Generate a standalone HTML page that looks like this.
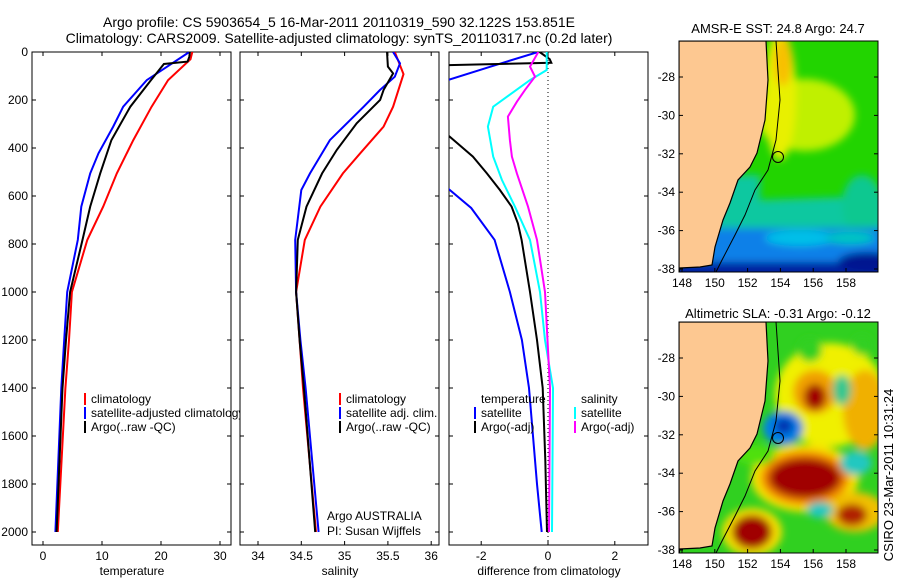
<!DOCTYPE html>
<html><head><meta charset="utf-8">
<style>
body{margin:0;background:#fff;}
svg{display:block;font-family:"Liberation Sans",sans-serif;}
text{fill:#000;}
</style></head>
<body>
<svg id="fig" width="900" height="580" viewBox="0 0 900 580">
<defs>
<clipPath id="c1"><rect x="32" y="52" width="199" height="493"/></clipPath>
<clipPath id="c2"><rect x="240" y="52" width="199" height="493"/></clipPath>
<clipPath id="c3"><rect x="449" y="52" width="199" height="493"/></clipPath>
<clipPath id="cm1"><rect x="679" y="41" width="199" height="231"/></clipPath>
<clipPath id="cm2"><rect x="679" y="322" width="199" height="231"/></clipPath>
<filter id="bl" x="-20%" y="-20%" width="140%" height="140%"><feGaussianBlur stdDeviation="4"/></filter>
</defs>
<text x="339" y="27" font-size="14" text-anchor="middle">Argo profile: CS 5903654_5 16-Mar-2011 20110319_590 32.122S 153.851E</text>
<text x="339" y="43" font-size="14" text-anchor="middle">Climatology: CARS2009. Satellite-adjusted climatology: synTS_20110317.nc (0.2d later)</text>

<g>
<text x="778" y="33" font-size="13" text-anchor="middle">AMSR-E SST: 24.8 Argo: 24.7</text>
<g clip-path="url(#cm1)">
<rect x="679" y="41" width="199" height="231" fill="#22d400"/>
<g filter="url(#bl)">
<ellipse cx="805" cy="115" rx="50" ry="36" fill="#c0f000"/>
<ellipse cx="780" cy="95" rx="16" ry="65" fill="#e8f000"/>
<ellipse cx="783" cy="62" rx="9" ry="24" fill="#f8c000"/>
<polygon points="730,175 760,175 760,200 900,195 900,230 700,230" fill="#10c8a0"/>
<ellipse cx="862" cy="205" rx="20" ry="30" fill="#10c890"/>
<rect x="660" y="228" width="240" height="34" fill="#0880e8"/>
<ellipse cx="800" cy="238" rx="35" ry="8" fill="#00c0e8"/>
<ellipse cx="850" cy="238" rx="25" ry="6" fill="#00c8c0"/>
<rect x="660" y="262" width="240" height="20" fill="#0020a0"/>
<ellipse cx="868" cy="262" rx="30" ry="10" fill="#001890"/>
</g>
</g>
</g>

<g>
<text x="778" y="318" font-size="13" text-anchor="middle">Altimetric SLA: -0.31 Argo: -0.12</text>
<g clip-path="url(#cm2)">
<rect x="679" y="322" width="199" height="231" fill="#30d020"/>
<g filter="url(#bl)">
<ellipse cx="830" cy="395" rx="55" ry="52" fill="#f0f000"/>
<ellipse cx="865" cy="410" rx="22" ry="40" fill="#f0b000"/>
<ellipse cx="815" cy="392" rx="22" ry="22" fill="#f0a000"/>
<ellipse cx="815" cy="397" rx="11" ry="13" fill="#a00000"/>
<ellipse cx="842" cy="390" rx="9" ry="15" fill="#30c890"/>
<ellipse cx="810" cy="350" rx="12" ry="12" fill="#30d020"/>
<ellipse cx="862" cy="345" rx="10" ry="10" fill="#30d020"/>
<ellipse cx="783" cy="428" rx="20" ry="17" fill="#0080e8"/>
<ellipse cx="784" cy="426" rx="9" ry="8" fill="#0030b0"/>
<ellipse cx="805" cy="478" rx="54" ry="34" fill="#f8e000"/>
<ellipse cx="805" cy="478" rx="44" ry="27" fill="#f08000"/>
<ellipse cx="805" cy="478" rx="36" ry="20" fill="#a00000"/>
<ellipse cx="752" cy="532" rx="30" ry="24" fill="#f8e000"/>
<ellipse cx="752" cy="532" rx="20" ry="17" fill="#a00000"/>
<ellipse cx="855" cy="512" rx="30" ry="20" fill="#f0c000"/>
<ellipse cx="852" cy="515" rx="15" ry="11" fill="#b02000"/>
<ellipse cx="856" cy="463" rx="16" ry="12" fill="#20c8c0"/>
<ellipse cx="820" cy="510" rx="13" ry="8" fill="#20c8c0"/>
<ellipse cx="755" cy="455" rx="20" ry="10" fill="#50e010"/>
</g>
</g>
</g>

<g id="maps-overlay"></g>
<g id="plots"></g>
<text transform="translate(893,475) rotate(-90)" font-size="13" text-anchor="middle">CSIRO 23-Mar-2011 10:31:24</text>
</svg>
<script>
var tempClimP = [0,30,117,228,367,506,644,783,1000,1200,1400,2000];
var tempClim  = [25.3,25.0,21.2,18.4,15.3,12.5,10.2,7.5,4.9,4.4,3.8,2.5];
var tempSatP  = [0,117,228,311,422,506,644,783,1000,1200,1400,2000];
var tempSat   = [24.8,17.6,13.6,11.9,9.4,8.0,6.5,5.9,4.1,3.6,3.1,2.1];
var tempArgoP = [0,20,40,50,80,117,228,367,506,644,783,1000,1200,1400,2000];
var tempArgo  = [24.9,24.8,24.5,20.5,19.5,18.3,14.8,11.6,9.7,8.0,6.7,4.6,3.9,3.3,2.3];

var salClimP = [0,92,228,311,422,506,644,783,1000,1200,1400,2000];
var salClim  = [35.58,35.68,35.56,35.45,35.18,34.98,34.72,34.54,34.44,34.48,34.52,34.67];
var salSatP  = [0,47,103,158,228,367,506,575,783,1000,1200,1400,2000];
var salSat   = [35.56,35.64,35.58,35.41,35.22,34.83,34.60,34.50,34.43,34.44,34.49,34.55,34.70];
var salArgoP = [0,61,89,158,200,297,408,506,644,783,1000,1200,1400,2000];
var salArgo  = [35.49,35.50,35.56,35.45,35.41,35.14,34.91,34.74,34.56,34.46,34.44,34.48,34.53,34.66];

var dTSatP  = [0,60,117,300,500,568,650,783,1000,1200,1400,1600,1800,2000];
var dTSat   = [-0.3,-1.7,-3.0,-4.0,-3.3,-3.0,-2.3,-1.6,-1.14,-0.78,-0.57,-0.45,-0.33,-0.19];
var dTArgoP = [0,30,45,55,70,100,130,346,436,506,575,644,714,783,1000,1200,1400,1700,2000];
var dTArgo  = [-0.25,0.05,0.1,-3.0,-3.2,-3.0,-3.5,-3.0,-2.25,-1.83,-1.44,-1.09,-0.9,-0.79,-0.54,-0.33,-0.16,-0.08,-0.03];
var dSSatP  = [0,75,117,228,311,436,533,644,783,1000,1200,1400,2000];
var dSSat   = [-0.04,-0.04,-0.54,-1.64,-1.8,-1.64,-1.38,-0.99,-0.54,-0.24,-0.09,0.15,0.12];
var dSArgoP = [0,61,103,158,207,269,367,436,506,644,783,1000,1400,2000];
var dSArgo  = [-0.29,-0.54,-0.39,-0.69,-0.93,-1.2,-1.14,-1.08,-0.93,-0.6,-0.33,-0.09,0.06,0.03];

var depthTicks = [0,200,400,600,800,1000,1200,1400,1600,1800,2000];
var tempTicks = [0,10,20,30];
var salTicks = [34,34.5,35,35.5,36];
var salTickLabels = ["34","34.5","35","35.5","36"];
var diffTicks = [-2,0,2];
var lonTicks = [148,150,152,154,156,158];
var latTicks = [-28,-30,-32,-34,-36,-38];

var NS = "http://www.w3.org/2000/svg";
function mk(tag, attrs, parent){var e=document.createElementNS(NS,tag);for(var k in attrs)e.setAttribute(k,attrs[k]);parent.appendChild(e);return e;}
function yP(p){return 52+0.24*p;}
var plots = document.getElementById('plots');

var panels = [
 {x0:32, name:'temperature', label:'temperature', clip:'c1', sx:function(v){return 43+5.9*v;}, ticks:tempTicks, tl:tempTicks.map(String)},
 {x0:240, name:'salinity', label:'salinity', clip:'c2', sx:function(v){return 258+86.6*(v-34);}, ticks:salTicks, tl:salTickLabels},
 {x0:449, name:'difference', label:'difference from climatology', clip:'c3', sx:function(v){return 548+33.4*v;}, ticks:diffTicks, tl:diffTicks.map(String)}
];
panels.forEach(function(pn,i){
  var g = mk('g',{},plots);
  
  
  var r = mk('rect',{x:pn.x0,y:52,width:199,height:493,fill:'#fff',stroke:'#000','stroke-width':1},g);
  
  
  depthTicks.forEach(function(d){
    var y=yP(d);
    mk('line',{x1:pn.x0,x2:pn.x0+4,y1:y,y2:y,stroke:'#000'},g);
    mk('line',{x1:pn.x0+199,x2:pn.x0+195,y1:y,y2:y,stroke:'#000'},g);
    if(i===0){
      var t=mk('text',{x:28,y:y+4,'font-size':12,'text-anchor':'end'},g);
      t.textContent=d;
      
      
    }
  });
  pn.ticks.forEach(function(v,k){
    var x=pn.sx(v);
    mk('line',{x1:x,x2:x,y1:545,y2:541,stroke:'#000'},g);
    mk('line',{x1:x,x2:x,y1:52,y2:56,stroke:'#000'},g);
    var t=mk('text',{x:x,y:560,'font-size':12,'text-anchor':'middle'},g);
    t.textContent=pn.tl[k];
    
    
  });
  var xl=mk('text',{x:pn.x0+100,y:575,'font-size':12,'text-anchor':'middle'},g);
  xl.textContent=pn.label;
  
  
  pn.g=g;
});

function series(pi, P, V, color, name){
  var pn=panels[pi];
  var pts=P.map(function(p,k){return pn.sx(V[k]).toFixed(1)+','+yP(p).toFixed(1);}).join(' ');
  var l=mk('polyline',{points:pts,fill:'none',stroke:color,'stroke-width':2,'clip-path':'url(#'+pn.clip+')'},pn.g);
  
  
}
var zl = mk('line',{x1:548,x2:548,y1:52,y2:545,stroke:'#000','stroke-dasharray':'1,3'},panels[2].g);



series(0,tempClimP,tempClim,'#f00','temp-climatology-line');
series(0,tempSatP,tempSat,'#00f','temp-satellite-line');
series(0,tempArgoP,tempArgo,'#000','temp-argo-line');
series(1,salClimP,salClim,'#f00','sal-climatology-line');
series(1,salSatP,salSat,'#00f','sal-satellite-line');
series(1,salArgoP,salArgo,'#000','sal-argo-line');
series(2,dTSatP,dTSat,'#00f','diff-temp-satellite-line');
series(2,dTArgoP,dTArgo,'#000','diff-temp-argo-line');
series(2,dSSatP,dSSat,'#0ff','diff-sal-satellite-line');
series(2,dSArgoP,dSArgo,'#f0f','diff-sal-argo-line');

function legend(g,x,y,color,text,name){
  if(color){ mk('line',{x1:x,x2:x,y1:y-10,y2:y+2,stroke:color,'stroke-width':2},g); }
  var t=mk('text',{x:x+6,y:y,'font-size':12},g);
  t.textContent=text;
  
  
}
legend(panels[0].g,85,403,'#f00','climatology','legend-climatology');
legend(panels[0].g,85,417,'#00f','satellite-adjusted climatology','legend-satellite-adjusted');
legend(panels[0].g,85,431,'#000','Argo(..raw -QC)','legend-argo');
legend(panels[1].g,340,403,'#f00','climatology','legend-climatology');
legend(panels[1].g,340,417,'#00f','satellite adj. clim.','legend-satellite-adjusted');
legend(panels[1].g,340,431,'#000','Argo(..raw -QC)','legend-argo');
legend(panels[2].g,475,403,null,'temperature','legend-temperature-header');
legend(panels[2].g,475,417,'#00f','satellite','legend-temp-satellite');
legend(panels[2].g,475,431,'#000','Argo(-adj)','legend-temp-argo');
legend(panels[2].g,575,403,null,'salinity','legend-salinity-header');
legend(panels[2].g,575,417,'#0ff','satellite','legend-sal-satellite');
legend(panels[2].g,575,431,'#f0f','Argo(-adj)','legend-sal-argo');
legend(panels[1].g,321,520,null,'Argo AUSTRALIA','credit-argo-australia');
legend(panels[1].g,321,535,null,'PI: Susan Wijffels','credit-pi');

var coastTop = [[766,41],[768,80],[765,120],[757,153],[750,167],[738,180],[730,203],[723,220],[715,247],[712,265],[700,267],[680,268]];
var isoTop = [[776,41],[780,100],[776,140],[768,170],[755,190],[745,215],[735,235],[722,260],[716,272]];
var ov=document.getElementById('maps-overlay');
[0,281].forEach(function(dy,mi){
  var g=mk('g',{'clip-path':'url(#cm'+(mi+1)+')'},ov);
  
  
  var poly=[[679,41]].concat(coastTop).concat([[679,273]]);
  mk('polygon',{points:poly.map(function(p){return p[0]+','+(p[1]+dy);}).join(' '),fill:'#fdc891',stroke:'#000','stroke-width':1.2},g);
  mk('polyline',{points:isoTop.map(function(p){return p[0]+','+(p[1]+dy);}).join(' '),fill:'none',stroke:'#000','stroke-width':1},g);
  var c=mk('circle',{cx:778,cy:157+dy,r:5.5,fill:'none',stroke:'#000','stroke-width':1},g);
  
  
  var f=mk('rect',{x:679,y:41+dy,width:199,height:231,fill:'none',stroke:'#000'},ov);
  
  
  lonTicks.forEach(function(lon){
    var x=682+16.4*(lon-148);
    mk('line',{x1:x,x2:x,y1:272+dy,y2:268+dy,stroke:'#000'},ov);
    var t=mk('text',{x:x,y:287+dy,'font-size':12,'text-anchor':'middle'},ov);
    t.textContent=lon;
    
    
  });
  latTicks.forEach(function(lat){
    var y=(mi?358:77)+19.2*(-28-lat);
    mk('line',{x1:679,x2:683,y1:y,y2:y,stroke:'#000'},ov);
    mk('line',{x1:878,x2:874,y1:y,y2:y,stroke:'#000'},ov);
    var t=mk('text',{x:675,y:y+4,'font-size':12,'text-anchor':'end'},ov);
    t.textContent=lat;
    
    
  });
});
</script>
</body></html>
